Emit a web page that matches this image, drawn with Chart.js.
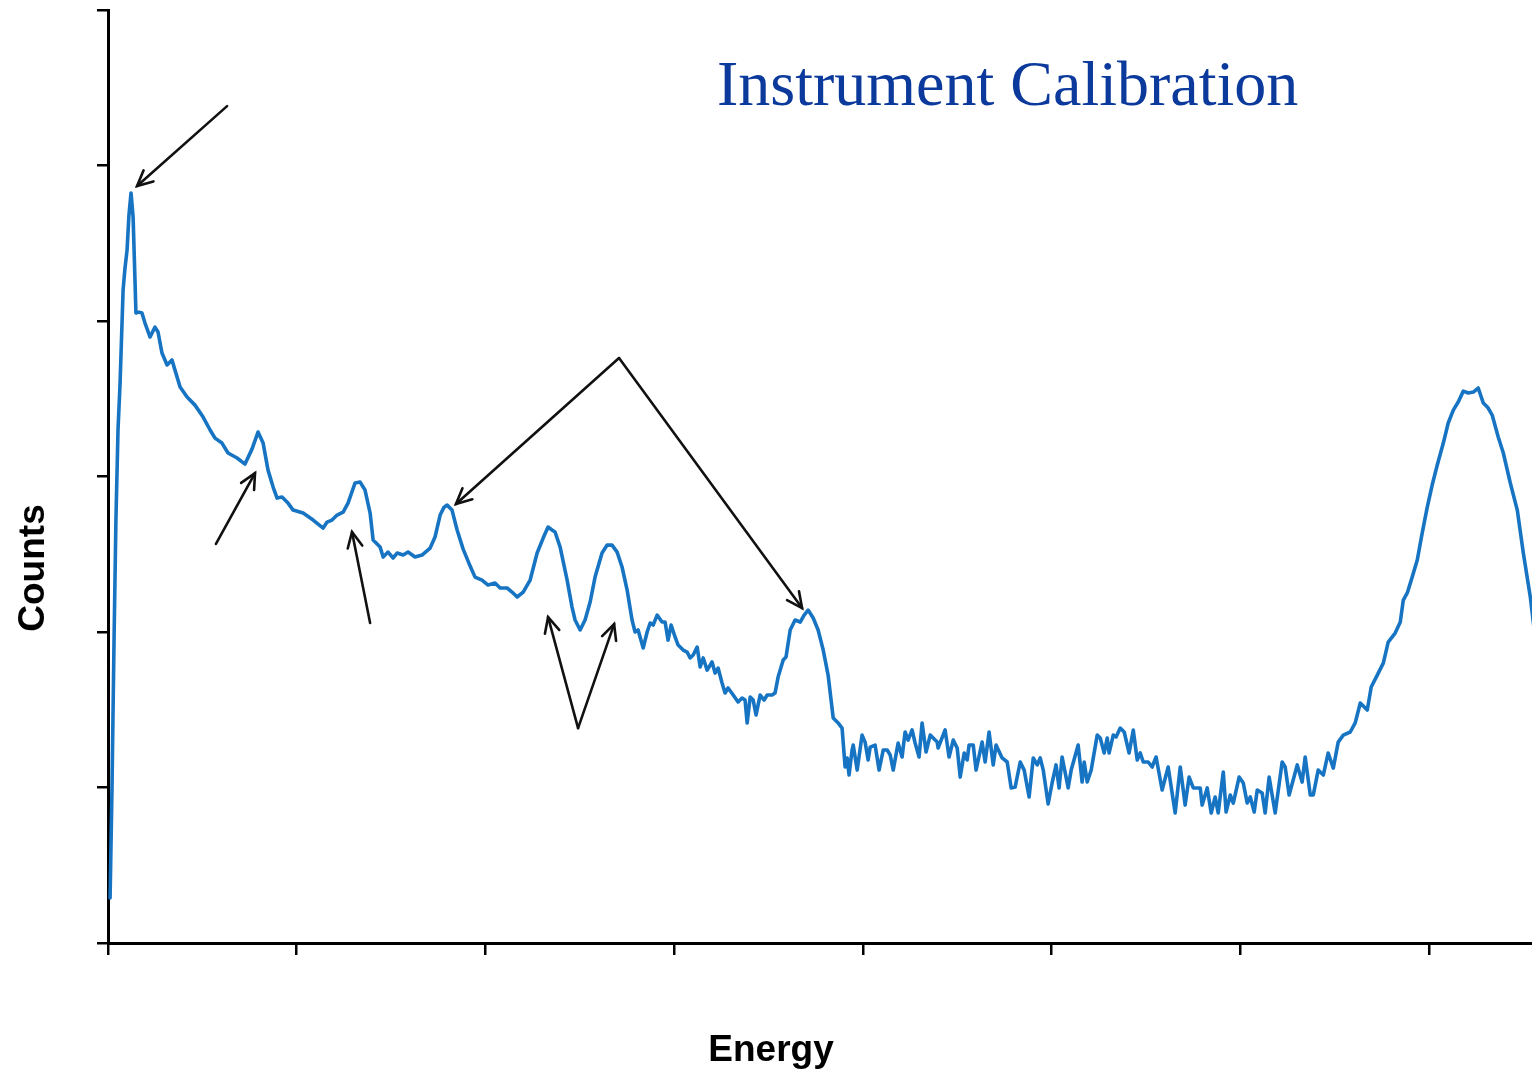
<!DOCTYPE html>
<html>
<head>
<meta charset="utf-8">
<title>Instrument Calibration</title>
<script src="https://cdn.jsdelivr.net/npm/chart.js@4.4.1/dist/chart.umd.min.js"></script>
<style>
    html, body { margin: 0; padding: 0; background: #fff; }
    #wrap { width: 1532px; height: 1073px; position: relative; }
</style>
</head>
<body>
<div id="wrap"><canvas id="spectrum" width="1532" height="1073"></canvas></div>
<script>
/* Calibration spectrum: counts vs energy, with peak call-outs */

const energy = [
    1.1, 2.1, 3.2, 4.2, 5.3, 6.4, 8.0, 9.0, 10.1, 11.1, 12.2, 13.3, 14.3, 14.8, 16.4, 18.0, 19.6, 22.3, 24.9, 26.5,
    28.6, 31.3, 33.9, 35.5, 38.2, 41.9, 46.1, 50.4, 54.1, 56.7, 60.4, 63.6, 68.4, 72.6, 76.3, 79.5, 82.2, 84.8, 87.5, 89.6,
    92.2, 95.4, 98.1, 103.4, 108.7, 114.0, 116.1, 118.7, 121.4, 124.6, 127.2, 130.9, 133.6, 136.2, 138.9, 140.5, 144.2, 145.8, 148.4, 151.1,
    153.2, 156.4, 159.0, 162.7, 166.4, 170.7, 173.3, 176.0, 178.1, 179.7, 182.3, 185.0, 188.2, 191.9, 194.5, 198.2, 201.4, 205.1, 207.8, 211.5,
    214.1, 216.8, 220.0, 223.7, 227.4, 230.6, 233.2, 235.3, 236.9, 239.6, 243.3, 245.9, 247.5, 250.2, 252.8, 255.5, 258.1, 261.8, 264.5, 267.1,
    269.8, 272.4, 275.1, 277.7, 279.3, 280.9, 283.6, 285.7, 287.3, 288.9, 291.0, 293.6, 295.2, 296.8, 298.4, 300.5, 302.1, 304.8, 306.9, 308.5,
    310.1, 312.2, 313.8, 315.4, 317.5, 320.1, 321.7, 323.3, 325.4, 327.0, 328.6, 331.3, 333.9, 336.0, 337.6, 338.7, 340.3, 341.9, 343.4, 345.6,
    347.7, 349.3, 351.9, 353.5, 355.1, 357.8, 359.3, 361.5, 364.1, 366.8, 368.9, 371.0, 373.7, 376.3, 379.0, 381.6, 384.3, 386.9, 389.0, 390.6,
    391.7, 392.7, 394.3, 394.9, 397.0, 399.6, 401.2, 402.8, 403.9, 406.5, 408.6, 410.8, 412.9, 414.5, 416.1, 418.7, 420.8, 422.4, 424.0, 426.1,
    427.7, 429.8, 431.4, 433.5, 435.7, 439.4, 439.9, 443.6, 445.7, 447.9, 450.0, 451.6, 453.7, 455.3, 456.3, 458.5, 460.0, 463.2, 464.8, 466.9,
    469.1, 470.6, 473.8, 476.5, 478.6, 480.7, 483.4, 485.5, 488.1, 490.3, 492.4, 494.0, 495.6, 498.2, 500.3, 502.4, 504.0, 505.6, 508.8, 510.4,
    514.1, 516.2, 517.3, 518.9, 521.0, 524.2, 525.8, 527.9, 529.5, 530.5, 532.7, 534.2, 536.4, 538.5, 541.1, 543.3, 545.4, 547.0, 548.6, 551.2,
    553.3, 555.4, 558.6, 561.8, 565.5, 568.2, 570.8, 572.9, 575.1, 578.8, 579.8, 582.5, 584.6, 586.7, 588.3, 591.0, 592.5, 594.7, 596.3, 599.4,
    601.6, 603.7, 605.3, 607.4, 609.0, 611.6, 613.2, 615.3, 618.5, 622.2, 623.8, 625.9, 630.2, 632.8, 634.4, 637.1, 638.7, 641.3, 644.0, 646.6,
    649.3, 651.9, 654.6, 658.3, 660.9, 663.6, 667.3, 669.4, 672.6, 675.8, 678.4, 682.1, 684.8, 686.4, 688.5, 691.1, 693.8, 696.4, 699.1, 701.7,
    704.4, 707.6, 710.2, 712.9, 715.5, 718.2, 720.8, 723.5, 726.1, 728.8, 731.4, 733.5, 736.7, 739.4, 743.1, 746.8, 750.0, 753.7, 755.8
];

const counts = [
    289, 984, 1948, 2720, 3299, 3601, 4199, 4340, 4456, 4681, 4823, 4668, 4263, 4051, 4057, 4051, 3987, 3897, 3961, 3929,
    3794, 3717, 3749, 3684, 3575, 3511, 3459, 3382, 3299, 3247, 3215, 3151, 3119, 3080, 3176, 3286, 3215, 3041, 2932, 2861,
    2868, 2829, 2784, 2765, 2720, 2668, 2707, 2720, 2752, 2771, 2829, 2958, 2964, 2913, 2765, 2591, 2546, 2482, 2514, 2476,
    2508, 2495, 2514, 2482, 2495, 2540, 2611, 2752, 2803, 2816, 2784, 2656, 2533, 2424, 2353, 2334, 2302, 2315, 2283, 2283,
    2257, 2225, 2257, 2334, 2508, 2604, 2675, 2656, 2643, 2546, 2334, 2160, 2077, 2013, 2077, 2193, 2353, 2508, 2559, 2559,
    2514, 2418, 2270, 2077, 2000, 2013, 1897, 2000, 2058, 2045, 2109, 2064, 2064, 1948, 2045, 1968, 1916, 1884, 1871, 1833,
    1852, 1903, 1775, 1833, 1755, 1807, 1736, 1768, 1672, 1608, 1640, 1595, 1550, 1575, 1562, 1415, 1582, 1562, 1466, 1595,
    1562, 1595, 1595, 1608, 1710, 1820, 1839, 2013, 2077, 2064, 2109, 2141, 2090, 2013, 1884, 1723, 1447, 1415, 1382, 1132,
    1190, 1080, 1241, 1273, 1112, 1337, 1292, 1177, 1260, 1273, 1112, 1241, 1241, 1209, 1112, 1286, 1196, 1357, 1305, 1370,
    1286, 1196, 1415, 1228, 1337, 1292, 1254, 1370, 1196, 1305, 1254, 1067, 1222, 1177, 1273, 1273, 1112, 1292, 1164, 1357,
    1145, 1273, 1190, 1164, 997, 1003, 1164, 1112, 939, 1190, 1145, 1190, 1112, 894, 1029, 1145, 997, 1196, 997, 1112,
    1273, 1035, 1164, 1035, 1112, 1337, 1318, 1222, 1318, 1222, 1337, 1325, 1382, 1357, 1222, 1370, 1177, 1222, 1164, 1164,
    1132, 1196, 984, 1132, 836, 1132, 887, 1067, 997, 997, 887, 997, 836, 939, 836, 1100, 842, 952, 900, 1067,
    1029, 900, 939, 842, 984, 965, 836, 1067, 836, 1164, 1132, 952, 1145, 1035, 1196, 952, 952, 1112, 1080, 1222,
    1125, 1292, 1337, 1357, 1415, 1543, 1498, 1646, 1723, 1800, 1935, 1993, 2064, 2205, 2251, 2353, 2463, 2636, 2803, 2945,
    3074, 3215, 3344, 3427, 3479, 3549, 3537, 3543, 3569, 3472, 3440, 3395, 3254, 3151, 2958, 2784, 2508, 2225, 2013
];

const energyTicks = [0, 100, 200, 300, 400, 500, 600, 700];
const countTicks = [0, 1000, 2000, 3000, 4000, 5000, 6000];

// call-out arrows, in data units: [energy, counts]
const arrowTails = [
    [63.1, 5382], [57.2, 2566], [138.9, 2058],
    [270.8, 3762], [270.8, 3762],
    [249.1, 1382], [249.1, 1382]
];
const arrowHeads = [
    [15.4, 4868], [77.9, 3022], [129.3, 2643],
    [184.4, 2823], [367.8, 2154],
    [233.2, 2096], [268.2, 2051]
];

const points = energy.map(function (e, i) { return { x: e, y: counts[i] }; });

function drawArrow(ctx, x1, y1, x2, y2) {
    const ang = Math.atan2(y2 - y1, x2 - x1);
    const len = 17;
    const spread = 0.45;
    ctx.beginPath();
    ctx.moveTo(x1, y1);
    ctx.lineTo(x2, y2);
    ctx.stroke();
    ctx.beginPath();
    ctx.moveTo(x2 - len * Math.cos(ang - spread), y2 - len * Math.sin(ang - spread));
    ctx.lineTo(x2, y2);
    ctx.lineTo(x2 - len * Math.cos(ang + spread), y2 - len * Math.sin(ang + spread));
    ctx.stroke();
}

const decorations = {
    id: 'decorations',
    afterDraw: function (chart) {
        const ctx = chart.ctx;
        const xs = chart.scales.x;
        const ys = chart.scales.y;

        ctx.save();
        ctx.strokeStyle = '#111';
        ctx.lineWidth = 2.6;
        ctx.lineCap = 'round';
        ctx.lineJoin = 'miter';
        arrowTails.forEach(function (t, i) {
            const h = arrowHeads[i];
            drawArrow(ctx,
                xs.getPixelForValue(t[0]), ys.getPixelForValue(t[1]),
                xs.getPixelForValue(h[0]), ys.getPixelForValue(h[1]));
        });

        ctx.fillStyle = '#0b3a9c';
        ctx.font = '64px "Liberation Serif", "Times New Roman", serif';
        ctx.textAlign = 'left';
        ctx.textBaseline = 'alphabetic';
        ctx.fillText('Instrument Calibration', 717, 105);

        ctx.fillStyle = '#000';
        ctx.font = 'bold 37px "Liberation Sans", Arial, sans-serif';
        ctx.textAlign = 'center';
        ctx.fillText('Energy', 771, 1061);

        ctx.translate(44, 568);
        ctx.rotate(-Math.PI / 2);
        ctx.fillText('Counts', 0, 0);
        ctx.restore();
    }
};

new Chart(document.getElementById('spectrum'), {
    type: 'line',
    data: {
        datasets: [{
            label: 'Counts',
            data: points,
            borderColor: '#1674c3',
            borderWidth: 3.6,
            pointRadius: 0,
            tension: 0,
            fill: false,
            borderJoinStyle: 'round',
            borderCapStyle: 'round'
        }]
    },
    options: {
        responsive: false,
        animation: false,
        devicePixelRatio: 1,
        layout: { autoPadding: false, padding: { top: 10, right: 0, left: 0, bottom: 0 } },
        plugins: { legend: { display: false }, tooltip: { enabled: false } },
        scales: {
            x: {
                type: 'linear',
                min: 0,
                max: 754.6,
                afterBuildTicks: function (s) { s.ticks = energyTicks.map(function (v) { return { value: v }; }); },
                afterFit: function (s) { s.height = 130; },
                ticks: { display: false },
                grid: { drawOnChartArea: false, drawTicks: true, tickLength: 12, color: '#000', lineWidth: 2.5 },
                border: { display: true, color: '#000', width: 3 }
            },
            y: {
                type: 'linear',
                min: 0,
                max: 6000,
                afterBuildTicks: function (s) { s.ticks = countTicks.map(function (v) { return { value: v }; }); },
                afterFit: function (s) { s.width = 108; },
                ticks: { display: false },
                grid: { drawOnChartArea: false, drawTicks: true, tickLength: 11, color: '#000', lineWidth: 2.5 },
                border: { display: true, color: '#000', width: 3 }
            }
        }
    },
    plugins: [decorations]
});
</script>
</body>
</html>
